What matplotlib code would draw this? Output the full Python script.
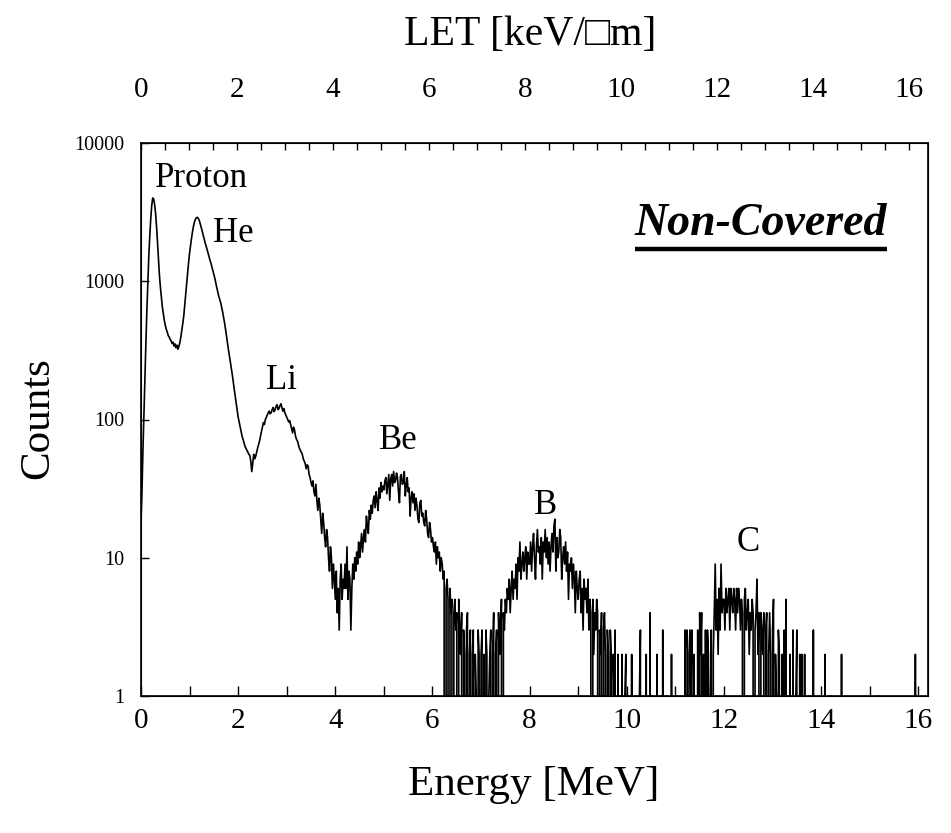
import numpy as np
import matplotlib
matplotlib.use("Agg")
import matplotlib.pyplot as plt
from matplotlib.ticker import FixedLocator, FixedFormatter, MultipleLocator, NullLocator
from matplotlib.lines import Line2D

plt.rcParams['font.family'] = ['Liberation Serif', 'DejaVu Serif', 'DejaVu Sans']

# Pulse-height spectrum, 0.02 MeV per channel, counts per channel (0 = empty channel)
counts_00_02 = [18, 30, 60, 110, 200, 350, 600, 950, 1500, 2100,
                2800, 3500, 4000, 3950, 3600, 3100, 2500, 1900, 1400, 1100,
                900, 760, 650, 580, 520, 480, 450, 430, 405, 395,
                380, 370, 355, 362, 340, 352, 330, 345, 322, 338,
                360, 395, 440, 495, 560, 670, 800, 960, 1150, 1370,
                1600, 1820, 2050, 2280, 2500, 2680, 2800, 2880, 2900, 2850,
                2750, 2600, 2450, 2300, 2150, 2020, 1900, 1800, 1700, 1600,
                1500, 1420, 1350, 1270, 1200, 1120, 1050, 970, 900, 840,
                780, 740, 700, 650, 600, 550, 500, 450, 400, 360,
                320, 290, 260, 235, 210, 185, 165, 147, 130, 117]
counts_02_04 = [104, 96, 88, 82, 76, 72, 68, 64, 62, 60,
                58, 56, 55, 50, 42, 48, 56, 52, 54, 58,
                62, 66, 70, 76, 82, 88, 95, 92, 100, 104,
                108, 112, 115, 110, 112, 118, 122, 114, 118, 124,
                128, 118, 120, 126, 130, 122, 115, 120, 112, 108,
                104, 100, 96, 98, 92, 86, 80, 88, 84, 76,
                72, 70, 66, 62, 60, 58, 56, 52, 50, 48,
                44, 47, 46, 40, 38, 35, 33, 36, 30, 28,
                34, 26, 22, 27, 24, 19, 15, 21, 18, 14,
                12, 16, 14, 10, 8, 12, 10, 6, 9, 7]
counts_04_06 = [5, 8, 4, 6, 3, 7, 9, 5, 7, 6,
                9, 6, 12, 5, 8, 7, 3, 6, 9, 7,
                10, 8, 11, 9, 13, 10, 12, 15, 11, 14,
                16, 13, 20, 17, 15, 22, 19, 24, 21, 26,
                28, 23, 30, 26, 22, 32, 27, 35, 30, 33,
                31, 36, 38, 29, 34, 40, 26, 37, 40, 33,
                42, 35, 36, 41, 38, 30, 25, 39, 40, 34,
                35, 42, 28, 33, 38, 30, 32, 20, 27, 30,
                25, 29, 22, 27, 24, 19, 18, 25, 26, 20,
                21, 18, 17, 22, 19, 15, 14, 18, 16, 13]
counts_06_08 = [14, 12, 11, 13, 9, 12, 10, 11, 8, 10,
                9, 7, 8, 0, 6, 7, 5, 0, 6, 4,
                5, 0, 4, 5, 3, 4, 0, 5, 3, 2,
                4, 0, 3, 2, 0, 3, 4, 0, 2, 3,
                0, 2, 3, 0, 2, 1, 0, 3, 2, 0,
                2, 3, 0, 2, 0, 3, 2, 0, 1, 2,
                3, 0, 2, 4, 0, 2, 3, 0, 4, 2,
                3, 5, 0, 4, 3, 5, 4, 6, 5, 7,
                4, 6, 8, 5, 7, 6, 9, 5, 10, 8,
                13, 7, 9, 11, 8, 10, 12, 7, 11, 9]
counts_08_10 = [9, 13, 8, 12, 15, 10, 7, 12, 16, 11,
                12, 9, 14, 7, 13, 11, 16, 10, 14, 9,
                13, 8, 12, 15, 11, 17, 19, 8, 14, 10,
                11, 16, 14, 7, 10, 12, 9, 13, 8, 11,
                5, 9, 8, 10, 6, 9, 7, 4, 8, 6,
                5, 7, 8, 4, 6, 3, 7, 5, 6, 4,
                7, 3, 5, 4, 0, 5, 2, 4, 3, 5,
                4, 0, 3, 2, 4, 0, 3, 4, 2, 0,
                3, 2, 0, 3, 2, 0, 2, 1, 3, 0,
                0, 2, 0, 1, 0, 2, 0, 0, 1, 2]
counts_10_12 = [0, 0, 1, 0, 0, 2, 0, 0, 0, 1,
                0, 0, 0, 1, 3, 0, 0, 1, 0, 0,
                2, 0, 0, 0, 4, 0, 1, 0, 0, 0,
                0, 2, 0, 0, 1, 0, 0, 3, 0, 0,
                0, 1, 0, 0, 0, 0, 2, 0, 0, 0,
                0, 0, 1, 0, 0, 0, 1, 0, 0, 0,
                3, 0, 3, 2, 0, 3, 1, 3, 0, 2,
                0, 1, 0, 3, 0, 4, 2, 4, 0, 2,
                0, 3, 0, 3, 2, 0, 1, 3, 0, 2,
                4, 9, 3, 5, 2, 6, 3, 9, 4, 5]
counts_12_14 = [5, 3, 6, 4, 5, 6, 3, 6, 5, 4,
                6, 5, 3, 6, 4, 6, 5, 3, 5, 4,
                0, 5, 6, 3, 4, 5, 2, 4, 3, 5,
                4, 0, 3, 4, 7, 2, 4, 0, 4, 3,
                2, 4, 0, 3, 4, 0, 2, 4, 2, 0,
                3, 5, 0, 2, 1, 0, 3, 2, 0, 0,
                2, 0, 3, 0, 5, 0, 1, 0, 2, 0,
                0, 3, 0, 0, 1, 3, 0, 0, 2, 0,
                2, 0, 0, 2, 0, 0, 0, 1, 0, 0,
                0, 0, 3, 0, 0, 0, 0, 0, 0, 0]
counts_14_16 = [0, 0, 0, 0, 2, 0, 0, 0, 0, 0,
                1, 0, 0, 0, 0, 0, 0, 0, 0, 0,
                0, 2, 0, 0, 0, 0, 0, 0, 0, 0,
                0, 0, 0, 0, 0, 0, 0, 0, 0, 0,
                0, 0, 0, 0, 0, 0, 0, 0, 0, 0,
                0, 0, 0, 0, 0, 0, 0, 0, 0, 0,
                1, 0, 0, 0, 0, 0, 0, 0, 0, 0,
                0, 0, 0, 0, 0, 0, 0, 0, 0, 0,
                0, 0, 0, 0, 0, 0, 0, 0, 0, 0,
                0, 0, 0, 0, 0, 0, 0, 2, 0, 0]

counts = np.array(counts_00_02 + counts_02_04 + counts_04_06 + counts_06_08 +
                  counts_08_10 + counts_10_12 + counts_12_14 + counts_14_16, dtype=float)
channel_width = 0.02
energy = np.arange(len(counts)) * channel_width

# Peak labels: (text, energy, counts)
peak_labels = [("Proton", 1.255, 5580), ("He", 1.89, 2230), ("Li", 2.9, 190),
               ("Be", 5.29, 71), ("B", 8.33, 24), ("C", 12.49, 12.8)]

y_ticks = [1, 10, 100, 1000, 10000]
y_tick_labels = ["1", "10", "100", "1000", "10000"]
x_ticks = list(range(0, 17, 2))
let_ticks = list(range(0, 17, 2))

fig = plt.figure(figsize=(9.51, 8.33), dpi=100)
ax = fig.add_axes([141 / 951, 1 - 696 / 833, 787 / 951, 553 / 833])

ax.plot(energy, counts, color='black', lw=1.2)
ax.set_yscale('log', nonpositive='clip')
ax.set_ylim(1, 10000)
ax.set_xlim(0, 16.2)

ax.yaxis.set_major_locator(FixedLocator(y_ticks))
ax.yaxis.set_major_formatter(FixedFormatter(y_tick_labels))
ax.yaxis.set_minor_locator(NullLocator())
ax.xaxis.set_major_locator(FixedLocator(x_ticks))
ax.xaxis.set_major_formatter(FixedFormatter([str(t) for t in x_ticks]))
ax.xaxis.set_minor_locator(MultipleLocator(1))

ax.tick_params(axis='x', which='both', direction='in', length=7, width=1,
               labelsize=21, pad=9, top=False)
ax.tick_params(axis='y', which='both', direction='in', length=6, width=1,
               labelsize=14.5, pad=12, right=False)

for sp in ax.spines.values():
    sp.set_linewidth(1.2)

ax.set_xlabel("Energy [MeV]", fontsize=31)
ax.xaxis.set_label_coords(0.499, -0.161)
ax.xaxis.label.set_va('center')
ax.set_ylabel("Counts", fontsize=31)
ax.yaxis.set_label_coords(-0.131, 0.503)
ax.yaxis.label.set_va('center')

# Secondary LET scale on top
ax2 = ax.twiny()
ax2.set_xlim(0, 16.4)
ax2.xaxis.set_major_locator(FixedLocator(let_ticks))
ax2.xaxis.set_major_formatter(FixedFormatter([str(t) for t in let_ticks]))
ax2.xaxis.set_minor_locator(MultipleLocator(0.5))
ax2.tick_params(axis='x', which='both', direction='in', length=5, width=1,
                labelsize=21, pad=29)
ax2.set_xlabel("LET [keV/\u25a1m]", fontsize=30)
ax2.xaxis.set_label_coords(0.494, 1.195)
ax2.xaxis.label.set_va('center')

for text, e, c in peak_labels:
    ax.text(e, c, text, fontsize=25, ha='center', va='center')

tag = ax.text(0.788, 0.853, "Non-Covered", transform=ax.transAxes, fontsize=33,
              fontweight='bold', fontstyle='italic', ha='center', va='center')

# underline below the tag
fig.canvas.draw()
bb = tag.get_window_extent(renderer=fig.canvas.get_renderer())
inv = ax.transAxes.inverted()
(x0, y0), (x1, y1) = inv.transform([[bb.x0, bb.y0], [bb.x1, bb.y1]])
ax.add_line(Line2D([x0, x1], [y0 - 0.006, y0 - 0.006], transform=ax.transAxes,
                   color='black', lw=3.2, solid_capstyle='butt'))

fig.savefig("out.png", dpi=100)
